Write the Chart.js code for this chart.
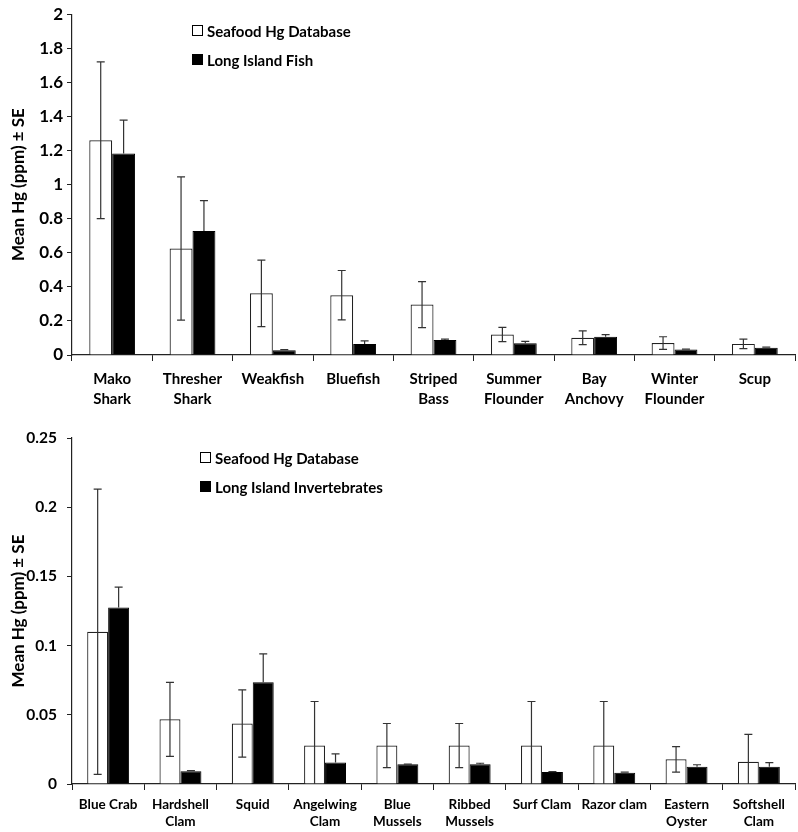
<!DOCTYPE html>
<html>
<head>
<meta charset="utf-8">
<script src="https://cdn.jsdelivr.net/npm/chart.js@4"></script>
<style>
  body { margin: 0; background: #fff; font-family: Lato, sans-serif; }
  .panel { position: relative; width: 798px; }
  .legend { position: absolute; font-weight: bold; font-size: 15px; color: #000; }
  .legend div { display: flex; align-items: center; height: 29px; }
  .legend span.box { display: inline-block; width: 9px; height: 9px; border: 1px solid #000; margin-right: 4px; }
</style>
</head>
<body>
<div class="panel" style="height:410px">
  <canvas id="fish" width="798" height="410"></canvas>
  <div class="legend" style="left:192px; top:16px">
    <div><span class="box" style="background:#fff"></span>Seafood Hg Database</div>
    <div><span class="box" style="background:#000"></span>Long Island Fish</div>
  </div>
</div>
<div class="panel" style="height:422px">
  <canvas id="inverts" width="798" height="422"></canvas>
  <div class="legend" style="left:200px; top:33px">
    <div><span class="box" style="background:#fff"></span>Seafood Hg Database</div>
    <div><span class="box" style="background:#000"></span>Long Island Invertebrates</div>
  </div>
</div>
<script>
// fish panel
const fishLabels = [['Mako', 'Shark'], ['Thresher', 'Shark'], 'Weakfish', 'Bluefish', ['Striped', 'Bass'],
    ['Summer', 'Flounder'], ['Bay', 'Anchovy'], ['Winter', 'Flounder'], 'Scup']
const fishDatabase = [1.26, 0.625, 0.362, 0.351, 0.296, 0.12, 0.101, 0.07, 0.065]
const fishDatabaseSE = [0.46, 0.42, 0.195, 0.145, 0.135, 0.042, 0.04, 0.037, 0.028]
const fishLocal = [1.183, 0.728, 0.028, 0.065, 0.088, 0.069, 0.107, 0.033, 0.042]
const fishLocalSE = [0.195, 0.178, 0.004, 0.018, 0.005, 0.011, 0.012, 0.002, 0.004]

// invertebrate panel
const invLabels = ['Blue Crab', ['Hardshell', 'Clam'], 'Squid', ['Angelwing', 'Clam'], ['Blue', 'Mussels'],
    ['Ribbed', 'Mussels'], 'Surf Clam', 'Razor clam', ['Eastern', 'Oyster'], ['Softshell', 'Clam']]
const invDatabase = [0.110, 0.0467, 0.0437, 0.0278, 0.0278, 0.0278, 0.0278, 0.0278, 0.0178, 0.0161]
const invDatabaseSE = [0.103, 0.0267, 0.0243, 0.0318, 0.0159, 0.0159, 0.0318, 0.0318, 0.0092, 0.0198]
const invLocal = [0.1275, 0.0093, 0.0735, 0.0155, 0.0142, 0.0142, 0.0087, 0.0082, 0.0125, 0.0125]
const invLocalSE = [0.0148, 0.0004, 0.0205, 0.0062, 0.0002, 0.0008, 0.0002, 0.0004, 0.0014, 0.003]

const fontFamily = 'Lato, sans-serif'

// whiskers; the lower half is hidden behind the black bars
const errorBars = {
    id: 'errorBars',
    afterDatasetsDraw(chart) {
        const ctx = chart.ctx
        const yScale = chart.scales.y
        const area = chart.chartArea
        ctx.save()
        ctx.beginPath()
        ctx.rect(area.left, area.top - 2, area.right - area.left, area.bottom - area.top + 2)
        ctx.clip()
        ctx.strokeStyle = '#333'
        ctx.lineWidth = 1.2
        chart.data.datasets.forEach((ds, i) => {
            const meta = chart.getDatasetMeta(i)
            meta.data.forEach((bar, j) => {
                const v = ds.data[j]
                const se = ds.errors[j]
                const yTop = yScale.getPixelForValue(v + se)
                const yBot = ds.showLower ? yScale.getPixelForValue(v - se) : yScale.getPixelForValue(v)
                ctx.beginPath()
                ctx.moveTo(bar.x, yTop)
                ctx.lineTo(bar.x, yBot)
                ctx.moveTo(bar.x - 4, yTop)
                ctx.lineTo(bar.x + 4, yTop)
                if (ds.showLower) {
                    ctx.moveTo(bar.x - 4, yBot)
                    ctx.lineTo(bar.x + 4, yBot)
                }
                ctx.stroke()
            })
        })
        ctx.restore()
    }
}

function makeChart(id, labels, database, databaseSE, local, localSE, yMax, yStep, opts) {
    return new Chart(document.getElementById(id), {
        type: 'bar',
        data: {
            labels: labels,
            datasets: [{
                label: 'Seafood Hg Database',
                data: database,
                errors: databaseSE,
                showLower: true,
                backgroundColor: '#fff',
                borderColor: '#222',
                borderWidth: 1.2,
                categoryPercentage: opts.catPct,
                barPercentage: 1
            }, {
                label: 'Local',
                data: local,
                errors: localSE,
                showLower: false,
                backgroundColor: '#000',
                borderColor: '#000',
                borderWidth: 1,
                categoryPercentage: opts.catPct,
                barPercentage: 1
            }]
        },
        options: {
            responsive: false,
            animation: false,
            layout: { padding: { top: opts.top, right: 3, left: 0, bottom: 0 } },
            plugins: { legend: { display: false }, tooltip: { enabled: false } },
            scales: {
                x: {
                    grid: { display: true, drawOnChartArea: false, tickLength: 6, color: '#222', offset: true },
                    border: { color: '#222', width: 1.2 },
                    ticks: {
                        color: '#000', maxRotation: 0, autoSkip: false, padding: opts.xPad,
                        font: { family: fontFamily, weight: 'bold', size: opts.xFont, lineHeight: opts.xLine }
                    },
                    afterFit: (scale) => { scale.height = opts.xHeight }
                },
                y: {
                    min: 0, max: yMax,
                    grid: { display: true, drawOnChartArea: false, tickLength: 5, color: '#222' },
                    border: { color: '#222', width: 1.2 },
                    ticks: {
                        stepSize: yStep, color: '#000', padding: opts.yPad,
                        font: { family: fontFamily, weight: 'bold', size: opts.yFont },
                        callback: (value) => String(Number(value.toFixed(2)))
                    },
                    title: {
                        display: true, text: 'Mean Hg (ppm) ± SE', color: '#000', padding: 8,
                        font: { family: fontFamily, weight: 'bold', size: 17 }
                    },
                    afterFit: (scale) => { scale.width = 72 }
                }
            }
        },
        plugins: [errorBars]
    })
}

makeChart('fish', fishLabels, fishDatabase, fishDatabaseSE, fishLocal, fishLocalSE, 2, 0.2,
    { catPct: 0.57, top: 9, xHeight: 55, xPad: 8, xFont: 15, xLine: 1.33, yFont: 17, yPad: 4 })
makeChart('inverts', invLabels, invDatabase, invDatabaseSE, invLocal, invLocalSE, 0.25, 0.05,
    { catPct: 0.58, top: 28, xHeight: 48, xPad: 6, xFont: 13.5, xLine: 1.25, yFont: 15.5, yPad: 10 })
</script>
</body>
</html>
